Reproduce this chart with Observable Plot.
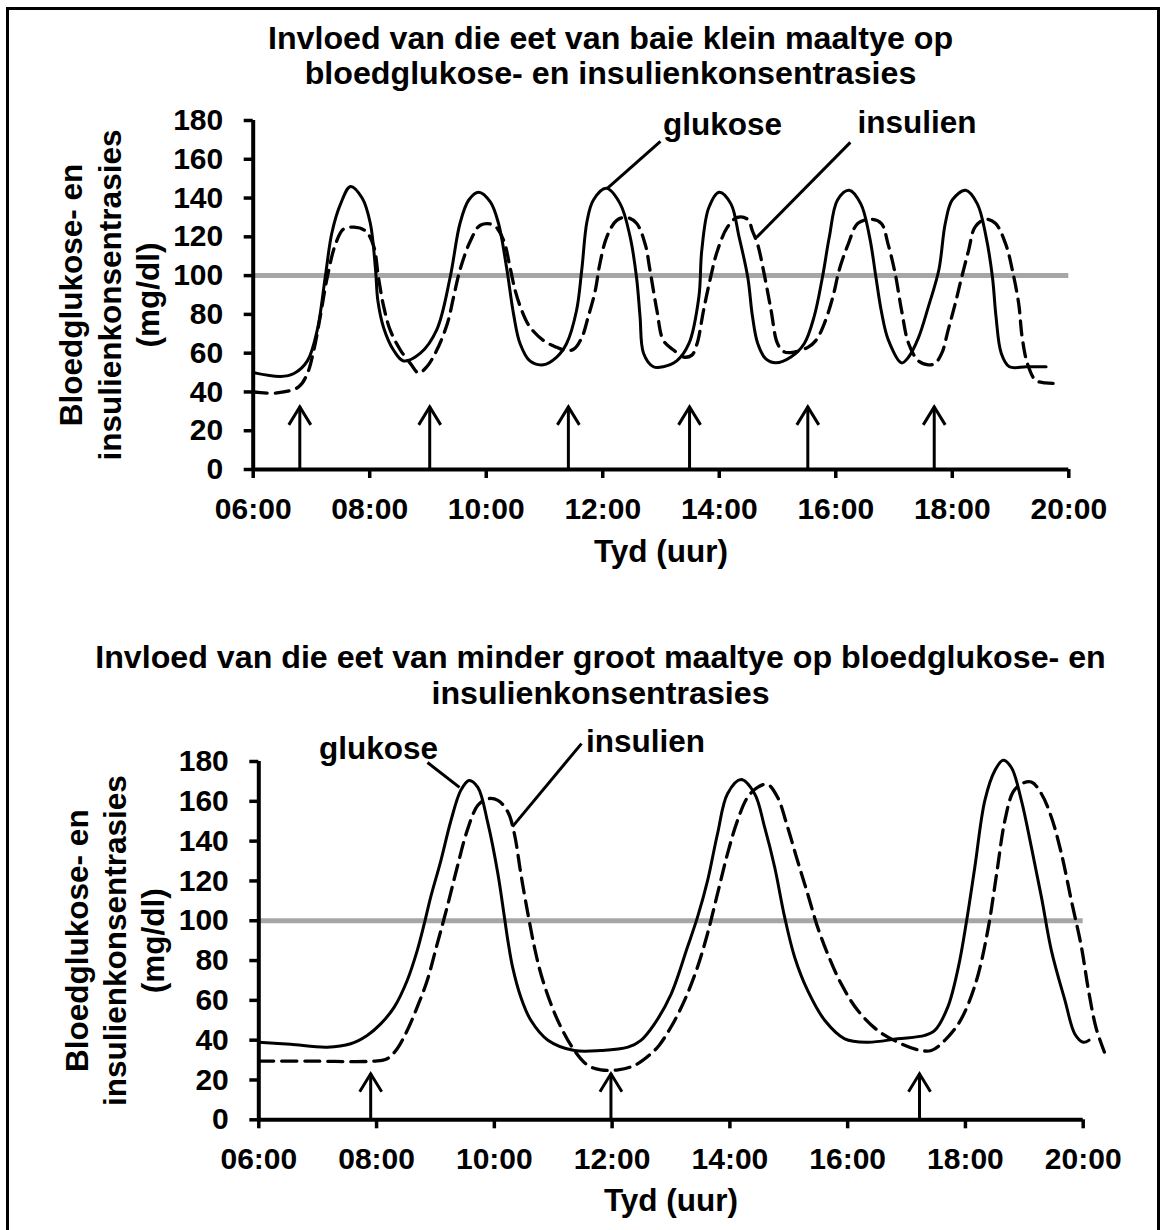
<!DOCTYPE html>
<html>
<head>
<meta charset="utf-8">
<script src="https://cdn.jsdelivr.net/npm/d3@7"></script>
<script src="https://cdn.jsdelivr.net/npm/@observablehq/plot@0.6"></script>
<style>
  body { margin: 0; background: #fff; }
  #page { position: relative; width: 1165px; height: 1230px; overflow: hidden; background: #fff; }
  .chart { position: absolute; left: 0; }
  #frame { position: absolute; left: 6px; top: 7px; width: 1154px; height: 1240px; border: 3px solid #000; box-sizing: border-box; pointer-events: none; }
</style>
</head>
<body>
<div id="page">
  <div id="c1" class="chart" style="top:0px"></div>
  <div id="c2" class="chart" style="top:600px"></div>
  <div id="frame"></div>
</div>
<script>
// ---------- shared axis data ----------
const hourTicks = [6, 8, 10, 12, 14, 16, 18, 20];
const hourTickLabels = ["06:00", "08:00", "10:00", "12:00", "14:00", "16:00", "18:00", "20:00"];
const valueTicks = [0, 20, 40, 60, 80, 100, 120, 140, 160, 180];
const xAxisLabel = "Tyd (uur)";
const yAxisLabelLines = ["Bloedglukose- en", "insulienkonsentrasies", "(mg/dl)"];
const threshold = 100;

// ---------- chart 1: baie klein maaltye ----------
const title1 = ["Invloed van die eet van baie klein maaltye op", "bloedglukose- en insulienkonsentrasies"];
const small_glucose = [
  [6.00,50],[6.47,48],[6.70,49.5],[6.93,56],[7.10,72],[7.24,100],[7.35,122],[7.50,137],[7.67,146],[7.87,140],
  [8.01,127],[8.10,103],[8.14,87],[8.24,73],[8.41,61.5],[8.58,56],[8.87,60],[9.15,72],[9.38,99],[9.55,127],
  [9.70,139],[9.87,143],[10.07,138],[10.21,127],[10.35,104],[10.47,80],[10.58,65],[10.75,56],[10.98,54],[11.21,58],
  [11.38,65],[11.55,82],[11.64,103],[11.73,128],[11.84,139],[12.06,145],[12.30,137],[12.47,120],[12.58,99],[12.64,79],
  [12.70,60],[12.87,53],[13.04,53],[13.27,56],[13.48,65],[13.65,89],[13.70,113],[13.82,135],[14.00,143],[14.20,137],
  [14.34,120],[14.49,99],[14.57,79],[14.66,65],[14.80,57],[14.97,55],[15.23,58],[15.46,65],[15.63,79],[15.77,99],
  [15.89,120],[16.03,139],[16.23,144],[16.43,137],[16.58,120],[16.69,99],[16.78,82],[16.90,67],[17.13,55],[17.25,58],
  [17.42,68],[17.59,84],[17.77,103],[17.88,127],[18.00,139],[18.23,144],[18.43,137],[18.58,120],[18.69,99],[18.75,79],
  [18.84,60],[18.98,53],[19.27,53],[19.61,53]
];
const small_insulin = [
  [6.00,40],[6.41,39.5],[6.78,42.6],[6.93,49.5],[7.04,61.5],[7.15,78.7],[7.27,99],[7.41,116],[7.55,124],[7.73,125],
  [7.93,123],[8.07,115],[8.15,99],[8.24,84],[8.35,72],[8.53,61.5],[8.70,54.6],[8.84,49.8],[8.98,53],[9.15,61.5],
  [9.33,75],[9.44,89],[9.55,103],[9.73,118],[9.90,126],[10.13,126],[10.30,118],[10.41,104],[10.50,92],[10.61,82],
  [10.75,73.5],[10.98,66.6],[11.21,63],[11.35,61.5],[11.50,62],[11.64,68],[11.75,78.7],[11.87,92],[11.95,106],[12.07,120],
  [12.24,128.5],[12.41,130],[12.58,127],[12.73,116],[12.81,103],[12.93,82],[13.04,66.6],[13.22,61.5],[13.39,58],[13.53,59],
  [13.62,65],[13.73,82],[13.85,99],[13.97,113],[14.14,125],[14.31,130],[14.49,129],[14.57,123],[14.66,116],[14.77,101],
  [14.89,82],[15.00,65],[15.12,60.6],[15.29,60.6],[15.52,63],[15.66,66.6],[15.80,75],[15.95,89],[16.06,103],[16.21,116],
  [16.38,127],[16.61,129],[16.78,127],[16.90,116],[17.02,101],[17.13,82],[17.25,65],[17.42,56],[17.59,54],[17.70,54.6],
  [17.82,60],[17.93,72],[18.05,85.5],[18.16,99],[18.28,113],[18.39,125],[18.57,129],[18.74,127],[18.92,116],[19.03,103],
  [19.14,85.5],[19.20,68],[19.29,54.6],[19.43,46],[19.60,44.7],[19.83,44.3]
];
const small_meals = [6.80, 9.03, 11.41, 13.49, 15.52, 17.69];
const small_mealArrowTip = 32.3;
const small_labels = [
  {t: 14.055, v: 172.3, text: "glukose"},
  {t: 17.394, v: 173.3, text: "insulien"}
];
const small_leaders = [
  {t1: 12.073, v1: 144.9, t2: 12.991, v2: 169.2},
  {t1: 16.25, v1: 168.7, t2: 14.64, v2: 119.7}
];

// ---------- chart 2: minder groot maaltye ----------
const title2 = ["Invloed van die eet van minder groot maaltye op bloedglukose- en", "insulienkonsentrasies"];
const large_glucose = [
  [6.00,39],[6.54,37.9],[7.16,36.5],[7.56,38.2],[7.84,42.4],[8.07,48.2],[8.30,56.6],[8.52,70],[8.69,85],[8.81,98.5],
  [8.92,112],[9.09,130],[9.26,150],[9.43,165.5],[9.57,170.5],[9.72,167],[9.89,149],[10.06,123.6],[10.17,102],[10.23,90],
  [10.31,76.7],[10.45,61.6],[10.62,50],[10.91,40],[11.36,34.8],[11.81,34.8],[12.27,36.5],[12.49,39.9],[12.72,48.2],[13.00,63],
  [13.28,86.8],[13.45,101.8],[13.62,120],[13.79,143.7],[13.96,163.8],[14.19,170.9],[14.42,163.8],[14.59,147],[14.76,127],[14.93,101.8],
  [15.10,81.7],[15.32,65],[15.61,50],[15.95,40.7],[16.34,39],[16.85,40.7],[17.31,42.4],[17.48,44.9],[17.70,56.6],[17.88,76.7],
  [18.02,100],[18.16,127],[18.33,160.5],[18.50,175.5],[18.64,180.6],[18.78,177],[18.95,160.5],[19.12,137],[19.29,112],[19.46,85],
  [19.69,60],[19.86,43],[20.00,39],[20.10,40]
];
const large_insulin = [
  [6.00,29.5],[6.82,29.5],[7.96,29.5],[8.18,30.7],[8.35,35.7],[8.52,44.9],[8.69,56.6],[8.86,70],[9.03,88.4],[9.20,107],
  [9.37,127],[9.54,145.4],[9.72,158],[9.89,161.3],[10.06,160.5],[10.23,154.6],[10.34,143.7],[10.45,123.6],[10.57,103.5],[10.68,86.8],
  [10.79,73.4],[10.96,58.3],[11.13,46.6],[11.36,34.8],[11.59,27.3],[11.81,25.1],[12.10,25.1],[12.38,27.3],[12.66,33.2],[12.80,37.5],
  [13.00,46.6],[13.23,60],[13.45,76.7],[13.62,93.5],[13.79,113.6],[13.96,133.7],[14.13,150.4],[14.30,162],[14.47,167],[14.64,168.5],
  [14.81,162],[14.98,147],[15.15,130],[15.32,113.6],[15.49,96.8],[15.66,83.4],[15.89,68.3],[16.17,55],[16.51,44.9],[16.85,39],
  [17.19,35.2],[17.42,34.8],[17.65,39.9],[17.88,48.2],[18.05,58.3],[18.22,73.4],[18.39,96.8],[18.53,123.6],[18.67,150.4],[18.81,164.7],
  [18.95,168.8],[19.12,169.7],[19.29,163.8],[19.46,152],[19.63,133.7],[19.80,110],[19.97,86.8],[20.09,65],[20.22,46],[20.36,34]
];
const large_meals = [7.90, 11.98, 17.22];
const large_mealArrowTip = 23.1;
const large_labels = [
  {t: 8.033, v: 181.5, text: "glukose"},
  {t: 12.566, v: 184.7, text: "insulien"}
];
const large_leaders = [
  {t1: 8.865, v1: 179.5, t2: 9.408, v2: 167.0},
  {t1: 11.48, v1: 189.0, t2: 10.308, v2: 147.3}
];

// ---------- drawing ----------
const FONT = "'Liberation Sans', Arial, Helvetica, sans-serif";
const TXT = 31.5;
const TITLE = 32.2;
const arrowHead = {
  draw(context) {
    context.moveTo(-11, 18);
    context.lineTo(0, 0);
    context.lineTo(11, 18);
  }
};

function makeChart(cfg) {
  const marks = [
    Plot.ruleY([threshold], {stroke: "#a6a6a6", strokeWidth: 5}),
    Plot.line(cfg.glucose, {x: d => d[0], y: d => d[1], curve: "catmull-rom", stroke: "#000", strokeWidth: 3}),
    Plot.line(cfg.insulin, {x: d => d[0], y: d => d[1], curve: "catmull-rom", stroke: "#000", strokeWidth: 3.3, strokeDasharray: cfg.dash}),
    Plot.ruleX(cfg.meals, {x: d => d, y1: 0, y2: cfg.arrowTip, stroke: "#000", strokeWidth: 3}),
    Plot.dot(cfg.meals, {x: d => d, y: cfg.arrowTip, symbol: arrowHead, stroke: "#000", fill: "none", strokeWidth: 3}),
    Plot.link(cfg.leaders, {x1: "t1", y1: "v1", x2: "t2", y2: "v2", stroke: "#000", strokeWidth: 3}),
    Plot.text(cfg.labels, {x: "t", y: "v", text: "text", lineAnchor: "bottom", fontSize: TXT, fontWeight: "bold", fill: "#000"}),
    Plot.axisY({ticks: valueTicks, tickSize: 9, tickPadding: 21, fontSize: 30, fontWeight: "bold", strokeWidth: 3.5, label: null, fill: "#000"}),
    Plot.axisX({ticks: hourTicks, tickFormat: d => hourTickLabels[hourTicks.indexOf(d)], tickSize: 9, tickPadding: 19, fontSize: 30, fontWeight: "bold", strokeWidth: 3.5, label: null, fill: "#000"}),
    Plot.ruleX([hourTicks[0]], {y1: valueTicks[0], y2: valueTicks[valueTicks.length - 1], stroke: "#000", strokeWidth: 4}),
    Plot.ruleY([valueTicks[0]], {x1: hourTicks[0], x2: hourTicks[hourTicks.length - 1], stroke: "#000", strokeWidth: 4}),
    Plot.text([xAxisLabel], {frameAnchor: "bottom", dy: cfg.xLabelDy, lineAnchor: "bottom", fontSize: TXT, fontWeight: "bold", fill: "#000"}),
    ...yAxisLabelLines.map((line, i) =>
      Plot.text([line], {frameAnchor: "left", rotate: -90, dx: cfg.yLabelDx[i], textAnchor: "middle", lineAnchor: "bottom", fontSize: TXT, fontWeight: "bold", fill: "#000"})
    ),
    ...cfg.title.map((line, i) =>
      Plot.text([line], {frameAnchor: "top", dx: cfg.titleDx, dy: cfg.titleDy[i], lineAnchor: "bottom", fontSize: TITLE, fontWeight: "bold", fill: "#000"})
    )
  ];
  return Plot.plot({
    width: 1165,
    height: cfg.height,
    marginTop: cfg.margin[0],
    marginRight: cfg.margin[1],
    marginBottom: cfg.margin[2],
    marginLeft: cfg.margin[3],
    x: {type: "linear", domain: [hourTicks[0], hourTicks[hourTicks.length - 1]]},
    y: {type: "linear", domain: [valueTicks[0], valueTicks[valueTicks.length - 1]]},
    style: {fontFamily: FONT, fontWeight: "bold", fontSize: "30px", background: "none", overflow: "visible", color: "#000"},
    marks
  });
}

document.getElementById("c1").appendChild(makeChart({
  glucose: small_glucose, insulin: small_insulin, meals: small_meals, arrowTip: small_mealArrowTip,
  labels: small_labels, leaders: small_leaders, title: title1,
  height: 580, margin: [120, 96.7, 111, 252.7],
  dash: "14,8", xLabelDy: 92.7, yLabelDx: [-171.2, -132.7, -94.7],
  titleDx: -50.5, titleDy: [-72, -37]
}));

document.getElementById("c2").appendChild(makeChart({
  glucose: large_glucose, insulin: large_insulin, meals: large_meals, arrowTip: large_mealArrowTip,
  labels: large_labels, leaders: large_leaders, title: title2,
  height: 630, margin: [161, 82.3, 110.7, 258.3],
  dash: "15,8", xLabelDy: 90.7, yLabelDx: [-171.1, -132.7, -94.3],
  titleDx: -70.5, titleDy: [-94, -58]
}));
</script>
</body>
</html>
